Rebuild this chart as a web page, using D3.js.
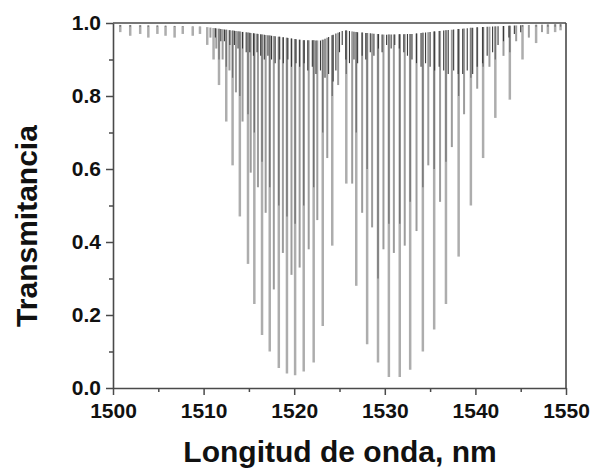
<!DOCTYPE html>
<html><head><meta charset="utf-8">
<script src="https://cdn.jsdelivr.net/npm/d3@7/dist/d3.min.js"></script>
<style>
body{margin:0;background:#fff}
text{font-family:"Liberation Sans",Arial,sans-serif;font-weight:bold;fill:#111}
</style>
</head><body>
<svg id="c" width="595" height="474"></svg>
<script>
// ---- data ----
const xTicks=[1500,1510,1520,1530,1540,1550];
const xMinor=[1505,1515,1525,1535,1545];
const yTicks=[0,0.2,0.4,0.6,0.8,1.0];
const yMinor=[0.1,0.3,0.5,0.7,0.9];

const baseWl=[1500,1505,1510,1513,1516,1519,1521,1523,1524.5,1525.5,1527,1530,1533,1536,1540,1545,1550];
const baseT =[0.995,0.993,0.99,0.98,0.97,0.96,0.953,0.952,0.97,0.98,0.975,0.968,0.97,0.978,0.988,0.994,0.997];

const strongWl=[1500.8,1501.9,1503.0,1503.9,1504.9,1505.8,1506.8,1507.7,1508.8,1509.6,1510.4,1511.1,
  1511.7,1512.5,1513.2,1514.0,1514.9,1515.6,1516.45,1517.3,1518.3,1519.2,1520.1,1521.05,1522.15,1523.15,1524.2,
  1525.75,1526.85,1528.05,1529.25,1530.45,1531.65,1532.8,1534.2,1535.45,1536.75,1538.15,1539.5,1540.85,1542.2,1543.8,
  1545.2,1546.7,1548.0,1548.8,1549.4];
const strongT=[0.975,0.965,0.97,0.96,0.97,0.965,0.96,0.97,0.965,0.97,0.94,0.90,
  0.83,0.73,0.61,0.47,0.34,0.23,0.145,0.10,0.055,0.04,0.035,0.045,0.07,0.17,0.39,
  0.56,0.28,0.12,0.07,0.03,0.03,0.05,0.10,0.16,0.23,0.36,0.50,0.63,0.74,0.79,
  0.90,0.945,0.97,0.975,0.98];
const strongDarkT=[0.99,0.99,0.99,0.99,0.99,0.99,0.99,0.99,0.99,0.99,0.99,0.99,
  0.90,0.88,0.85,0.80,0.75,0.70,0.62,0.55,0.50,0.47,0.45,0.50,0.55,0.70,0.80,
  0.86,0.70,0.60,0.30,0.45,0.45,0.51,0.55,0.60,0.62,0.80,0.85,0.88,0.90,0.92,
  0.99,0.99,0.99,0.99,0.99];

const mediumWl=[1510.75,1511.4,1512.1,1512.85,1513.57,1514.3,1515.2,1516.0,1516.85,1517.75,1518.75,1519.7,1520.6,
  1521.6,1522.55,1523.65,1524.85,1526.4,1527.5,1528.6,1529.85,1531.0,1532.2,1533.5,1534.8,1536.1,1537.4,1538.75,
  1540.2,1541.55,1543.1,1544.5,1545.9,1547.35];
const mediumT=[0.96,0.93,0.90,0.87,0.81,0.73,0.59,0.55,0.48,0.27,0.37,0.31,0.33,
  0.38,0.46,0.63,0.83,0.56,0.48,0.44,0.38,0.37,0.39,0.43,0.61,0.51,0.66,0.75,
  0.82,0.88,0.91,0.95,0.96,0.975];

const weakWl=[1511.3,1511.9,1512.3,1512.9,1513.4,1513.8,1514.3,1514.7,1515.1,1515.5,1515.9,1516.3,1516.7,1517.1,1517.5,1517.9,
  1518.4,1518.8,1519.3,1519.7,1520.2,1520.6,1521.1,1521.5,1522.0,1522.4,1522.9,1523.4,1523.8,1524.3,1524.6,1525.0,
  1525.3,1525.7,1526.1,1526.6,1527.0,1527.5,1527.9,1528.4,1528.8,1529.3,1529.7,1530.2,1530.7,1531.1,1531.6,1532.1,
  1532.5,1533.0,1533.5,1534.0,1534.5,1535.0,1535.5,1536.0,1536.5,1537.0,1537.6,1538.1,1538.6,1539.1,1539.7,1540.2,
  1540.8,1541.3,1541.9,1542.5,1543.1,1543.7,1544.3,1545.0];
const weakT=[0.96,0.95,0.95,0.94,0.94,0.93,0.93,0.92,0.92,0.91,0.92,0.91,0.90,0.91,0.90,0.89,
  0.90,0.89,0.90,0.88,0.89,0.88,0.89,0.87,0.88,0.86,0.87,0.85,0.86,0.84,0.87,0.92,
  0.94,0.90,0.89,0.90,0.89,0.91,0.90,0.92,0.91,0.93,0.92,0.94,0.93,0.94,0.93,0.92,
  0.91,0.90,0.89,0.88,0.89,0.88,0.87,0.88,0.87,0.86,0.87,0.86,0.86,0.87,0.86,0.88,
  0.89,0.91,0.92,0.94,0.95,0.96,0.97,0.975];

// ---- drawing ----
const svg=d3.select("#c");
const x=d3.scaleLinear().domain([1500,1550]).range([113,566]);
const y=d3.scaleLinear().domain([0,1]).range([388,23]);
const base=d3.scaleLinear().domain(baseWl).range(baseT);

function lines(wl,t,color,width,cls){
  svg.append("g").attr("class",cls).selectAll("line").data(wl.map((w,i)=>[w,t[i]])).join("line")
    .attr("x1",d=>x(d[0])).attr("x2",d=>x(d[0]))
    .attr("y1",d=>y(base(d[0]))).attr("y2",d=>y(Math.min(d[1],base(d[0]))))
    .attr("stroke",color).attr("stroke-width",width);
}
lines(strongWl,strongT,"#adadad",2.5,"strong");
lines(mediumWl,mediumT,"#9c9c9c",2.0,"medium");
lines(strongWl,strongDarkT,"#727272",1.3,"strongDark");
lines(weakWl,weakT,"#3a3a3a",1.1,"weak");

// frame
const axCol="#4a4a4a";
svg.append("line").attr("x1",x(1500)).attr("x2",x(1550)).attr("y1",y(1)).attr("y2",y(1)).attr("stroke",axCol).attr("stroke-width",1.6);
svg.append("line").attr("x1",x(1550)).attr("x2",x(1550)).attr("y1",y(1)).attr("y2",y(0)).attr("stroke",axCol).attr("stroke-width",1.6);

// minor ticks
svg.append("g").attr("transform",`translate(${x(1500)},0)`)
  .call(d3.axisLeft(y).tickValues(yMinor).tickSize(4).tickFormat(""))
  .call(g=>g.select(".domain").remove());
svg.append("g").attr("transform",`translate(0,${y(0)})`)
  .call(d3.axisBottom(x).tickValues(xMinor).tickSize(4).tickFormat(""))
  .call(g=>g.select(".domain").remove());

const ya=svg.append("g").attr("transform",`translate(${x(1500)},0)`)
  .call(d3.axisLeft(y).tickValues(yTicks).tickSize(7).tickSizeOuter(0).tickPadding(5).tickFormat(d3.format(".1f")));
const xa=svg.append("g").attr("transform",`translate(0,${y(0)})`)
  .call(d3.axisBottom(x).tickValues(xTicks).tickSize(7).tickSizeOuter(0).tickPadding(8).tickFormat(d3.format("d")));
svg.selectAll(".tick line").attr("stroke",axCol).attr("stroke-width",1.5);
svg.selectAll(".domain").attr("stroke",axCol).attr("stroke-width",1.6);
svg.selectAll(".tick text").attr("font-size",21).attr("font-family","Liberation Sans, Arial, sans-serif").attr("font-weight","bold").attr("fill","#111");

svg.append("text").attr("x",340).attr("y",462).attr("text-anchor","middle").attr("font-size",30).text("Longitud de onda, nm");
svg.append("text").attr("transform","translate(37,226) rotate(-90)").attr("text-anchor","middle").attr("font-size",30).text("Transmitancia");
</script>
</body></html>
